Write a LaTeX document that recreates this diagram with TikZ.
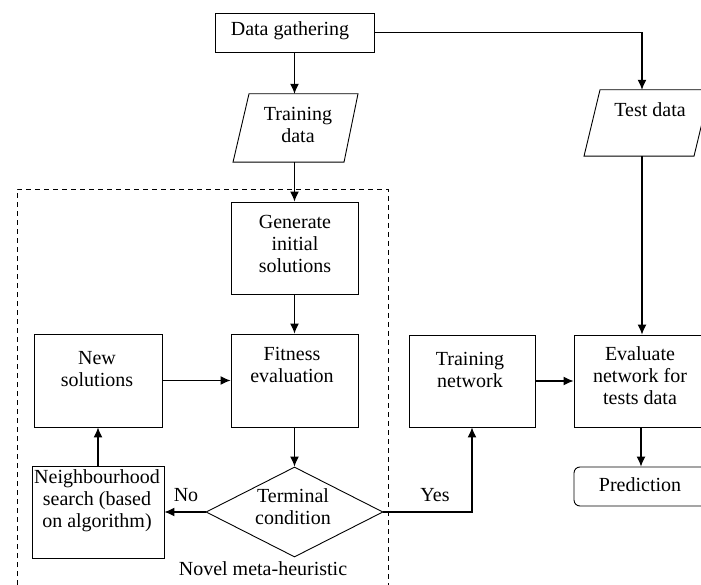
\documentclass[tikz,border=0pt]{standalone}
\usepackage{fontspec}
\setmainfont{Liberation Serif}
\usetikzlibrary{arrows.meta,shapes.geometric,calc}
\begin{document}
\begin{tikzpicture}[x=1pt,y=-1pt,font=\fontsize{20}{22}\selectfont,
  box/.style={draw,line width=0.9pt,inner sep=0pt},
  ghost/.style={inner sep=0pt},
  txt/.style={align=center,inner sep=0pt},
  arr/.style={line width=1.1pt,-{Latex[length=10pt,width=9pt]}},
  frame/.style={line width=0.9pt,dash pattern=on 5pt off 4pt}]
\useasboundingbox (0,0) rectangle (701,585);
% frame
\draw[frame] (17,585) -- (17,189) -- (388,189) -- (388,585);
% top
\node[box,minimum width=159pt,minimum height=39pt] (dg) at (294.5,32.5) {};
\node[txt] (dgT) at (290,31) {Data gathering};
% training data parallelogram
\node[ghost,minimum width=126pt,minimum height=68pt] (train) at (294.5,128) {};
\draw[line width=0.9pt] ($(train.north)+(-45.5,0)$) -- ($(train.north)+(63.5,0)$)
  -- ($(train.south)+(49.5,0)$) -- ($(train.south)+(-61.5,0)$) -- cycle;
\node[txt] (trainT) at (298,125) {Training\\data};
% test data parallelogram
\node[ghost,minimum width=126pt,minimum height=66pt] (test) at (642,123) {};
\draw[line width=0.9pt] ($(test.north)+(-42,0)$) -- ($(test.north)+(68,0)$)
  -- ($(test.south)+(52,0)$) -- ($(test.south)+(-58,0)$) -- cycle;
\node[txt] (testT) at (650,110) {Test data};
% meta-heuristic
\node[box,minimum width=127pt,minimum height=92pt] (gen) at (294.5,248) {};
\node[txt] (genT) at (295,244) {Generate\\initial\\solutions};
\node[box,minimum width=127pt,minimum height=93pt] (fit) at (294.5,380.5) {};
\node[txt] (fitT) at (292,364.5) {Fitness\\evaluation};
\node[box,minimum width=128pt,minimum height=93pt] (new) at (98,380.5) {};
\node[txt] (newT) at (97,369) {New\\solutions};
\node[draw,diamond,line width=0.9pt,inner sep=0pt,minimum width=177pt,minimum height=90pt] (term) at (294.5,512) {};
\node[txt] (termT) at (293,507) {Terminal\\condition};
\node[box,minimum width=132pt,minimum height=92pt] (nb) at (98,512) {};
\node[txt] (nbT) at (97,501) {Neighbourhood\\search (based\\on algorithm)};
\node[txt] (novel) at (263,569) {Novel meta-heuristic};
% right part
\node[box,minimum width=126pt,minimum height=92pt] (tn) at (472,381) {};
\node[txt] (tnT) at (470,369.5) {Training\\network};
\node[box,minimum width=134pt,minimum height=92pt] (ev) at (641,381) {};
\node[txt] (evT) at (640,376) {Evaluate\\network for\\tests data};
\node[box,rounded corners=6pt,minimum width=134pt,minimum height=39pt] (pred) at (641,486.5) {};
\node[txt] (predT) at (640,485) {Prediction};
% labels
\node[txt] (no) at (186,495) {No};
\node[txt] (yes) at (435,495) {Yes};
% connectors
\draw[arr] (dg.south) -- (train.north);
\draw[arr] (dg.east) -| (test.north);
\draw[arr] (train.south) -- (gen.north);
\draw[arr] (gen.south) -- (fit.north);
\draw[arr] (fit.south) -- (term.north);
\draw[arr] (term.west) -- (nb.east);
\draw[arr] (nb.north) -- (new.south);
\draw[arr] (new.east) -- (fit.west);
\draw[arr] (term.east) -| (tn.south);
\draw[arr] (tn.east) -- (ev.west);
\draw[arr] (test.south) -- (test.south |- ev.north);
\draw[arr] (ev.south) -- (pred.north);
\end{tikzpicture}
\end{document}
